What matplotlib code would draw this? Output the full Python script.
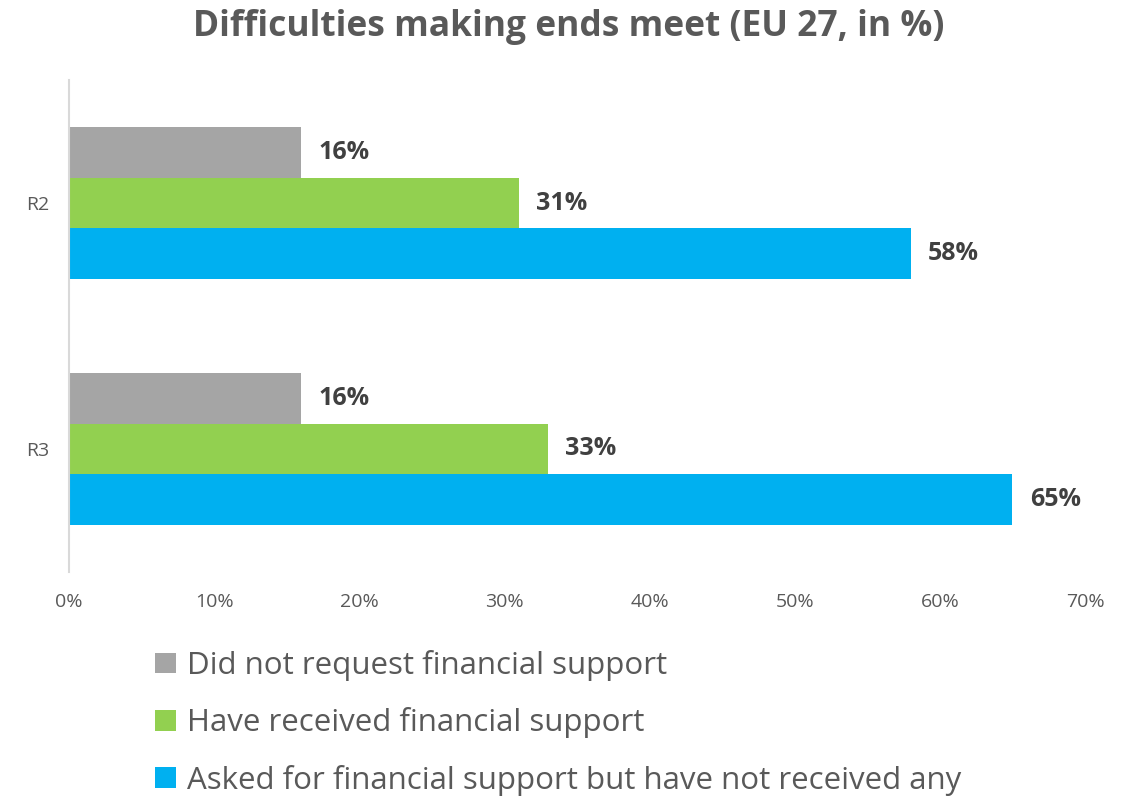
import matplotlib.pyplot as plt
import numpy as np

categories = ['R2', 'R3']
series = ['Did not request financial support',
          'Have received financial support',
          'Asked for financial support but have not received any']
not_requested = [16, 16]
received = [31, 33]
asked_not_received = [58, 65]
colors = ['#A5A5A5', '#92D050', '#00B0F0']
xticks = [0, 10, 20, 30, 40, 50, 60, 70]

plt.rcParams['font.family'] = ['Open Sans', 'DejaVu Sans']

fig = plt.figure(figsize=(11.27, 8.02), dpi=100)
ax = fig.add_axes([0.0612, 0.2868, 0.9015, 0.6134])

y = np.arange(len(categories))
h = 0.205
values = [not_requested, received, asked_not_received]
bars = []
for i, (vals, col, lab) in enumerate(zip(values, colors, series)):
    b = ax.barh(y + (i - 1) * h, vals, height=h, color=col, label=lab)
    bars.append(b)
    for yy, v in zip(y + (i - 1) * h, vals):
        ax.text(v + 1.2, yy, f'{v}%', va='center', ha='left',
                fontsize=18, fontweight='bold', color='#404040')

ax.set_xlim(0, 70)
ax.set_ylim(1.5, -0.5)
ax.set_yticks(y)
ax.set_yticklabels(categories, fontsize=14, color='#595959')
ax.set_xticks(xticks)
ax.set_xticklabels([f'{t}%' for t in xticks], fontsize=14, color='#595959')
ax.tick_params(axis='both', length=0)
ax.tick_params(axis='x', pad=15)
ax.tick_params(axis='y', pad=14)
for s in ['top', 'right', 'bottom']:
    ax.spines[s].set_visible(False)
ax.spines['left'].set_color('#D9D9D9')
ax.spines['left'].set_linewidth(1.5)

fig.text(0.505, 0.966, 'Difficulties making ends meet (EU 27, in %)',
         ha='center', va='center', fontsize=25.5, fontweight='bold', color='#595959')

leg = fig.legend(handles=bars, labels=series, loc='upper left',
                 bbox_to_anchor=(0.124, 0.209), frameon=False, fontsize=22.5,
                 handlelength=0.65, handleheight=0.65, handletextpad=0.35,
                 labelspacing=0.84, borderpad=0)
for t in leg.get_texts():
    t.set_color('#595959')

fig.savefig('out.png', dpi=100)
